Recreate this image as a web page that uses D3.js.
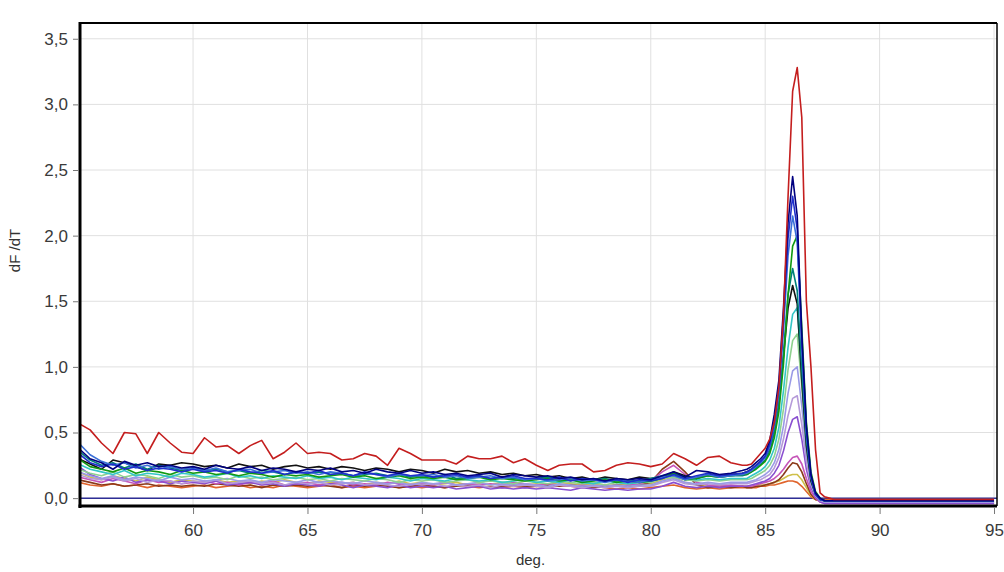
<!DOCTYPE html>
<html>
<head>
<meta charset="utf-8">
<script src="https://cdn.jsdelivr.net/npm/d3@7"></script>
<style>
  body { margin: 0; background: #fff; }
  text { font-family: "Liberation Sans", Arial, sans-serif; }
</style>
</head>
<body>
<svg width="1004" height="572"></svg>
<script>
// temperature points (deg.)
const temps = [
  55,55.5,56,56.5,57,57.5,58,58.5,59,59.5,60,60.5,61,61.5,62,62.5,63,63.5,64,64.5,
  65,65.5,66,66.5,67,67.5,68,68.5,69,69.5,70,70.5,71,71.5,72,72.5,73,73.5,74,74.5,
  75,75.5,76,76.5,77,77.5,78,78.5,79,79.5,80,80.5,81,81.5,82,82.5,83,83.5,84,
  84.2,84.4,84.6,84.8,85,85.2,85.4,85.6,85.8,86,86.2,86.4,86.6,86.8,87,87.2,87.4,87.6,87.8,88,
  89,90,91,92,93,94,95,
];

const xTicks = [60, 65, 70, 75, 80, 85, 90, 95];
const yTicks = [0, 0.5, 1, 1.5, 2, 2.5, 3, 3.5];

// dF/dT per well, one value per temperature point
const orange = [
  0.12,0.10,0.09,0.11,0.09,0.10,0.08,0.10,0.09,0.08,0.09,0.10,0.08,0.09,0.10,0.08,0.09,0.08,0.10,0.09,
  0.08,0.09,0.10,0.08,0.09,0.08,0.09,0.10,0.08,0.09,0.08,0.09,0.08,0.10,0.09,0.08,0.09,0.08,0.09,0.08,
  0.09,0.08,0.10,0.09,0.08,0.09,0.08,0.07,0.08,0.07,0.08,0.09,0.10,0.08,0.07,0.08,0.07,0.08,0.08,
  0.08,0.08,0.08,0.09,0.09,0.10,0.10,0.11,0.12,0.13,0.13,0.12,0.09,0.05,0.01,-0.01,-0.01,-0.01,-0.01,-0.01,
  -0.01,-0.01,-0.01,-0.01,-0.01,-0.01,-0.01,
];
const khaki = [
  0.20,0.16,0.14,0.17,0.15,0.13,0.16,0.14,0.12,0.14,0.13,0.12,0.14,0.12,0.13,0.11,0.13,0.12,0.14,0.12,
  0.11,0.13,0.12,0.11,0.12,0.10,0.12,0.11,0.13,0.11,0.12,0.10,0.11,0.12,0.10,0.11,0.10,0.12,0.11,0.10,
  0.11,0.10,0.12,0.11,0.10,0.11,0.09,0.10,0.11,0.10,0.11,0.14,0.16,0.12,0.10,0.09,0.10,0.09,0.09,
  0.09,0.09,0.09,0.10,0.10,0.11,0.12,0.13,0.15,0.17,0.18,0.18,0.14,0.08,0.02,-0.01,-0.02,-0.02,-0.02,-0.02,
  -0.02,-0.02,-0.02,-0.02,-0.02,-0.02,-0.02,
];
const brown = [
  0.14,0.12,0.10,0.11,0.09,0.10,0.11,0.09,0.10,0.09,0.10,0.09,0.11,0.10,0.09,0.10,0.08,0.10,0.09,0.10,
  0.09,0.10,0.09,0.08,0.10,0.09,0.10,0.09,0.08,0.09,0.10,0.09,0.08,0.09,0.10,0.09,0.08,0.09,0.10,0.09,
  0.09,0.10,0.09,0.10,0.09,0.08,0.09,0.10,0.09,0.10,0.12,0.22,0.28,0.20,0.10,0.08,0.09,0.08,0.09,
  0.08,0.08,0.09,0.09,0.10,0.11,0.12,0.14,0.18,0.23,0.27,0.26,0.20,0.11,0.03,-0.01,-0.02,-0.02,-0.02,-0.02,
  -0.02,-0.02,-0.02,-0.02,-0.02,-0.02,-0.02,
];
const magenta = [
  0.16,0.14,0.12,0.15,0.13,0.11,0.14,0.12,0.13,0.11,0.12,0.13,0.11,0.12,0.10,0.12,0.11,0.13,0.10,0.11,
  0.12,0.10,0.11,0.12,0.10,0.11,0.10,0.12,0.11,0.10,0.11,0.10,0.12,0.10,0.11,0.10,0.11,0.10,0.12,0.11,
  0.10,0.11,0.10,0.09,0.10,0.09,0.10,0.09,0.10,0.11,0.13,0.20,0.25,0.18,0.12,0.10,0.09,0.10,0.09,
  0.09,0.09,0.10,0.11,0.12,0.13,0.15,0.18,0.22,0.27,0.31,0.32,0.26,0.15,0.05,0.00,-0.03,-0.04,-0.04,-0.04,
  -0.04,-0.04,-0.04,-0.04,-0.04,-0.04,-0.04,
];
const violet = [
  0.24,0.18,0.15,0.13,0.16,0.12,0.14,0.13,0.11,0.13,0.12,0.11,0.13,0.10,0.11,0.12,0.10,0.11,0.09,0.11,
  0.10,0.09,0.11,0.10,0.08,0.10,0.09,0.08,0.10,0.08,0.09,0.08,0.09,0.07,0.08,0.09,0.07,0.08,0.07,0.08,
  0.07,0.08,0.07,0.06,0.08,0.07,0.06,0.07,0.06,0.07,0.07,0.09,0.12,0.09,0.08,0.09,0.08,0.09,0.09,
  0.09,0.10,0.11,0.12,0.13,0.15,0.19,0.25,0.36,0.50,0.60,0.62,0.45,0.22,0.08,0.01,-0.03,-0.04,-0.04,-0.04,
  -0.04,-0.04,-0.04,-0.04,-0.04,-0.04,-0.04,
];
const lilac = [
  0.18,0.15,0.14,0.16,0.13,0.15,0.12,0.14,0.13,0.11,0.13,0.12,0.14,0.11,0.12,0.13,0.11,0.12,0.10,0.12,
  0.11,0.12,0.10,0.11,0.12,0.10,0.11,0.10,0.09,0.11,0.10,0.11,0.09,0.10,0.09,0.10,0.08,0.10,0.09,0.10,
  0.09,0.08,0.10,0.09,0.08,0.09,0.08,0.09,0.08,0.09,0.09,0.12,0.14,0.11,0.10,0.11,0.10,0.11,0.11,
  0.11,0.12,0.13,0.14,0.16,0.18,0.23,0.31,0.45,0.63,0.76,0.78,0.56,0.28,0.10,0.02,-0.02,-0.03,-0.03,-0.03,
  -0.03,-0.03,-0.03,-0.03,-0.03,-0.03,-0.03,
];
const lavender = [
  0.20,0.17,0.15,0.17,0.14,0.16,0.15,0.13,0.16,0.14,0.15,0.13,0.14,0.15,0.13,0.14,0.12,0.14,0.13,0.12,
  0.14,0.12,0.13,0.12,0.11,0.13,0.12,0.11,0.12,0.10,0.12,0.11,0.12,0.10,0.11,0.12,0.10,0.11,0.10,0.11,
  0.10,0.09,0.11,0.10,0.09,0.10,0.09,0.10,0.09,0.10,0.10,0.13,0.15,0.12,0.11,0.12,0.11,0.12,0.12,
  0.12,0.13,0.14,0.16,0.18,0.21,0.27,0.37,0.55,0.80,0.97,1.00,0.70,0.34,0.12,0.02,-0.01,-0.03,-0.03,-0.03,
  -0.03,-0.03,-0.03,-0.03,-0.03,-0.03,-0.03,
];
const lightGreen = [
  0.22,0.19,0.17,0.20,0.16,0.18,0.17,0.15,0.18,0.16,0.17,0.15,0.16,0.14,0.17,0.15,0.16,0.14,0.15,0.16,
  0.14,0.15,0.13,0.15,0.14,0.13,0.15,0.14,0.12,0.14,0.13,0.14,0.12,0.13,0.14,0.12,0.13,0.12,0.11,0.13,
  0.12,0.11,0.13,0.12,0.11,0.12,0.10,0.12,0.11,0.12,0.12,0.15,0.16,0.14,0.13,0.14,0.13,0.14,0.14,
  0.14,0.15,0.17,0.19,0.21,0.25,0.32,0.45,0.68,0.98,1.20,1.25,0.85,0.40,0.14,0.03,-0.01,-0.02,-0.02,-0.02,
  -0.02,-0.02,-0.02,-0.02,-0.02,-0.02,-0.02,
];
const cyan = [
  0.26,0.22,0.20,0.18,0.21,0.17,0.19,0.18,0.16,0.19,0.18,0.16,0.17,0.19,0.16,0.17,0.15,0.17,0.16,0.15,
  0.17,0.15,0.16,0.14,0.16,0.15,0.14,0.16,0.15,0.13,0.15,0.14,0.13,0.15,0.14,0.13,0.14,0.12,0.13,0.14,
  0.12,0.13,0.12,0.14,0.12,0.11,0.13,0.12,0.11,0.12,0.13,0.16,0.18,0.15,0.14,0.15,0.14,0.15,0.15,
  0.15,0.17,0.19,0.21,0.24,0.29,0.38,0.54,0.82,1.15,1.40,1.45,0.95,0.45,0.15,0.03,-0.01,-0.02,-0.02,-0.02,
  -0.02,-0.02,-0.02,-0.02,-0.02,-0.02,-0.02,
];
const black = [
  0.30,0.26,0.22,0.29,0.27,0.24,0.21,0.26,0.25,0.27,0.26,0.24,0.25,0.23,0.26,0.24,0.25,0.22,0.24,0.25,
  0.23,0.24,0.22,0.24,0.23,0.21,0.23,0.22,0.20,0.22,0.21,0.19,0.22,0.20,0.21,0.19,0.20,0.18,0.19,0.17,
  0.18,0.16,0.17,0.15,0.16,0.14,0.16,0.15,0.14,0.16,0.15,0.16,0.20,0.17,0.15,0.18,0.17,0.18,0.19,
  0.20,0.22,0.25,0.28,0.31,0.38,0.52,0.72,1.08,1.45,1.62,1.48,0.90,0.40,0.13,0.03,-0.01,-0.02,-0.02,-0.02,
  -0.02,-0.02,-0.02,-0.02,-0.02,-0.02,-0.02,
];
const teal = [
  0.36,0.29,0.25,0.27,0.23,0.26,0.22,0.25,0.23,0.21,0.23,0.21,0.22,0.20,0.21,0.19,0.21,0.20,0.18,0.20,
  0.19,0.20,0.18,0.19,0.17,0.18,0.19,0.17,0.18,0.16,0.17,0.16,0.18,0.15,0.16,0.17,0.15,0.16,0.15,0.14,
  0.15,0.16,0.14,0.15,0.13,0.14,0.15,0.13,0.14,0.13,0.15,0.17,0.19,0.16,0.15,0.17,0.16,0.17,0.17,
  0.18,0.20,0.23,0.26,0.29,0.36,0.50,0.72,1.10,1.55,1.75,1.58,0.98,0.45,0.15,0.03,-0.01,-0.02,-0.02,-0.02,
  -0.02,-0.02,-0.02,-0.02,-0.02,-0.02,-0.02,
];
const green = [
  0.30,0.24,0.22,0.20,0.23,0.19,0.21,0.20,0.18,0.21,0.19,0.20,0.18,0.19,0.17,0.19,0.18,0.16,0.18,0.17,
  0.18,0.16,0.17,0.18,0.16,0.17,0.15,0.16,0.17,0.15,0.16,0.15,0.16,0.14,0.15,0.16,0.14,0.15,0.14,0.13,
  0.14,0.15,0.13,0.14,0.12,0.13,0.14,0.12,0.13,0.12,0.13,0.15,0.19,0.14,0.15,0.17,0.16,0.17,0.18,
  0.18,0.20,0.22,0.25,0.28,0.34,0.46,0.66,1.02,1.55,1.92,2.00,1.30,0.58,0.20,0.05,0.00,-0.02,-0.02,-0.02,
  -0.02,-0.02,-0.02,-0.02,-0.02,-0.02,-0.02,
];
const royalBlue = [
  0.42,0.33,0.28,0.25,0.27,0.23,0.25,0.22,0.24,0.22,0.23,0.21,0.23,0.20,0.21,0.22,0.19,0.20,0.21,0.19,
  0.20,0.18,0.20,0.19,0.17,0.19,0.18,0.16,0.18,0.17,0.17,0.18,0.16,0.17,0.15,0.16,0.17,0.15,0.16,0.14,
  0.15,0.13,0.14,0.15,0.13,0.14,0.12,0.14,0.13,0.12,0.14,0.16,0.17,0.14,0.16,0.18,0.16,0.17,0.18,
  0.19,0.21,0.24,0.27,0.31,0.39,0.55,0.80,1.28,1.85,2.15,1.95,1.15,0.50,0.16,0.03,-0.01,-0.02,-0.02,-0.02,
  -0.02,-0.02,-0.02,-0.02,-0.02,-0.02,-0.02,
];
const blue = [
  0.34,0.27,0.24,0.26,0.22,0.24,0.21,0.23,0.22,0.20,0.22,0.20,0.21,0.19,0.22,0.20,0.19,0.21,0.18,0.20,
  0.19,0.21,0.18,0.19,0.17,0.20,0.18,0.17,0.19,0.17,0.18,0.16,0.17,0.18,0.16,0.17,0.15,0.16,0.17,0.15,
  0.15,0.14,0.16,0.13,0.15,0.14,0.13,0.14,0.12,0.14,0.13,0.15,0.18,0.15,0.17,0.19,0.17,0.18,0.19,
  0.20,0.22,0.25,0.28,0.32,0.41,0.58,0.84,1.35,1.98,2.30,2.05,1.20,0.52,0.17,0.03,-0.01,-0.02,-0.02,-0.02,
  -0.02,-0.02,-0.02,-0.02,-0.02,-0.02,-0.02,
];
const navy = [
  0.38,0.30,0.27,0.22,0.28,0.25,0.27,0.24,0.25,0.23,0.24,0.22,0.25,0.23,0.22,0.24,0.21,0.23,0.22,0.20,
  0.22,0.21,0.23,0.20,0.21,0.19,0.22,0.20,0.19,0.21,0.19,0.20,0.18,0.19,0.17,0.18,0.19,0.16,0.18,0.17,
  0.16,0.17,0.15,0.16,0.14,0.15,0.13,0.15,0.14,0.15,0.14,0.17,0.20,0.16,0.21,0.20,0.18,0.19,0.21,
  0.22,0.24,0.27,0.30,0.34,0.44,0.64,0.90,1.45,2.10,2.45,2.15,1.25,0.55,0.18,0.04,0.00,-0.02,-0.02,-0.02,
  -0.02,-0.02,-0.02,-0.02,-0.02,-0.02,-0.02,
];
const red = [
  0.57,0.52,0.42,0.34,0.50,0.49,0.34,0.50,0.42,0.35,0.34,0.46,0.39,0.40,0.34,0.40,0.44,0.30,0.35,0.42,
  0.34,0.35,0.34,0.29,0.30,0.34,0.32,0.25,0.38,0.34,0.29,0.29,0.29,0.26,0.32,0.30,0.30,0.32,0.27,0.30,
  0.25,0.21,0.25,0.26,0.26,0.20,0.21,0.25,0.27,0.26,0.24,0.26,0.34,0.30,0.25,0.31,0.32,0.27,0.25,
  0.25,0.26,0.30,0.34,0.38,0.45,0.58,0.85,1.40,2.30,3.10,3.28,2.90,1.50,1.00,0.37,0.04,0.01,0.00,-0.01,
  -0.01,-0.01,-0.01,-0.01,-0.01,-0.01,-0.01,
];

// draw order: lowest first, red on top
const series = [
  { values: orange, color: '#e0642c' },
  { values: khaki, color: '#cfc04a' },
  { values: brown, color: '#8b3a1a' },
  { values: magenta, color: '#c655b8' },
  { values: violet, color: '#8a4fd0' },
  { values: lilac, color: '#b59ad9' },
  { values: lavender, color: '#9a9ae6' },
  { values: lightGreen, color: '#8fd18f' },
  { values: cyan, color: '#33c6c6' },
  { values: black, color: '#111111' },
  { values: teal, color: '#00807a' },
  { values: green, color: '#119911' },
  { values: royalBlue, color: '#3a6fd8' },
  { values: blue, color: '#1f2fcc' },
  { values: navy, color: '#000080' },
  { values: red, color: '#c41e1e' },
];

const svg = d3.select('svg');
const width = +svg.attr('width');
const height = +svg.attr('height');
const margin = { top: 23, right: 7, bottom: 65, left: 80 };

const x = d3.scaleLinear()
  .domain([55.06, 95.13])
  .range([margin.left, width - margin.right]);
const y = d3.scaleLinear()
  .domain([-0.06, 3.62])
  .range([height - margin.bottom - 1, margin.top]);

const comma = d3.formatLocale({ decimal: ',', thousands: '.', grouping: [3], currency: ['', ''] });
const fmtY = comma.format('.1f');

// grid
svg.append('g')
  .selectAll('line')
  .data(xTicks)
  .enter().append('line')
    .attr('x1', d => x(d)).attr('x2', d => x(d))
    .attr('y1', margin.top).attr('y2', y.range()[0])
    .attr('stroke', '#e0e0e0');
svg.append('g')
  .selectAll('line')
  .data(yTicks)
  .enter().append('line')
    .attr('x1', margin.left).attr('x2', width - margin.right)
    .attr('y1', d => y(d)).attr('y2', d => y(d))
    .attr('stroke', '#e0e0e0');

// axes
const yAxis = svg.append('g')
  .attr('transform', `translate(${margin.left - 2},0)`)
  .call(d3.axisLeft(y).tickValues(yTicks).tickFormat(fmtY).tickSize(5).tickPadding(5));
const xAxis = svg.append('g')
  .attr('transform', `translate(0,${y.range()[0] + 2})`)
  .call(d3.axisBottom(x).tickValues(xTicks).tickFormat(d3.format('d')).tickSize(6).tickPadding(10));

[yAxis, xAxis].forEach(ax => {
  ax.select('.domain').remove();
  ax.selectAll('.tick line').attr('stroke', '#777');
  ax.selectAll('.tick text')
    .attr('fill', '#3a3a3a')
    .style('font-size', '17px');
});

svg.append('defs').append('clipPath')
  .attr('id', 'plot')
  .append('rect')
    .attr('x', margin.left)
    .attr('y', margin.top)
    .attr('width', width - margin.right - margin.left)
    .attr('height', y.range()[0] - margin.top);

// zero line
svg.append('line')
  .attr('x1', margin.left).attr('x2', width - margin.right)
  .attr('y1', y(0)).attr('y2', y(0))
  .attr('stroke', '#2e2e96')
  .attr('stroke-width', 1.5);

const line = d3.line()
  .x((d, i) => x(temps[i]))
  .y(d => y(d));

svg.append('g')
  .attr('clip-path', 'url(#plot)')
  .selectAll('path')
  .data(series)
  .enter().append('path')
    .attr('d', d => line(d.values))
    .attr('fill', 'none')
    .attr('stroke', d => d.color)
    .attr('stroke-width', 1.6)
    .attr('stroke-linejoin', 'round');

// frame
const frameBottom = y.range()[0];
svg.append('line')
  .attr('x1', margin.left).attr('x2', width - margin.right)
  .attr('y1', margin.top).attr('y2', margin.top)
  .attr('stroke', '#000').attr('stroke-width', 2);
svg.append('line')
  .attr('x1', width - margin.right).attr('x2', width - margin.right)
  .attr('y1', margin.top).attr('y2', frameBottom)
  .attr('stroke', '#000').attr('stroke-width', 1.5);
svg.append('line')
  .attr('x1', margin.left).attr('x2', margin.left)
  .attr('y1', margin.top - 1).attr('y2', frameBottom + 2)
  .attr('stroke', '#000').attr('stroke-width', 3);
svg.append('line')
  .attr('x1', margin.left - 1.5).attr('x2', width - margin.right)
  .attr('y1', frameBottom).attr('y2', frameBottom)
  .attr('stroke', '#000').attr('stroke-width', 3);

// axis titles
svg.append('text')
  .attr('x', (margin.left + width - margin.right) / 2 - 8)
  .attr('y', 565)
  .attr('text-anchor', 'middle')
  .attr('fill', '#333')
  .style('font-size', '15px')
  .text('deg.');
svg.append('text')
  .attr('transform', `translate(20,${(margin.top + frameBottom) / 2 - 14}) rotate(-90)`)
  .attr('text-anchor', 'middle')
  .attr('fill', '#333')
  .style('font-size', '15px')
  .text('dF /dT');
</script>
</body>
</html>
